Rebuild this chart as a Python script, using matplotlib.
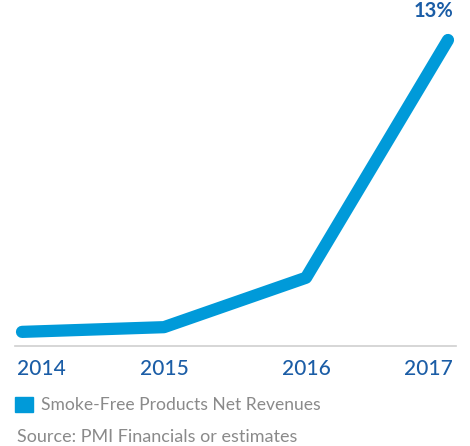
import matplotlib
matplotlib.use("Agg")
import matplotlib.pyplot as plt
import matplotlib.transforms as mtrans
from matplotlib.patches import Patch

plt.rcParams['font.family'] = ['Lato', 'DejaVu Sans']

years = [2014, 2015, 2016, 2017]
share = [0.6, 0.8, 2.9, 13.0]
year_labels = ["2014", "2015", "2016", "2017"]
series_name = "Smoke-Free Products Net Revenues"
source = "Source: PMI Financials or estimates"

blue = "#009ad9"
dark = "#1b5da6"
grey = "#8a8a8a"

fig = plt.figure(figsize=(4.7, 4.46), dpi=100)
ax = fig.add_axes([15/470, 100/446, 441/470, 326/446])

ax.plot(years, share, color=blue, lw=8.8, solid_capstyle='round',
        solid_joinstyle='round', clip_on=False)
ax.set_xlim(2014 - 7/142, 2017 + 8/142)
ax.set_ylim(0, 326/23.54)

for s in ['top', 'left', 'right']:
    ax.spines[s].set_visible(False)
ax.spines['bottom'].set_color('#cfcfcf')
ax.spines['bottom'].set_linewidth(1.2)
ax.set_yticks([])
ax.set_xticks(years)
ax.set_xticklabels(year_labels, fontsize=15, color=dark, fontweight='medium')
ax.tick_params(axis='x', length=0, pad=9.5)
labs = ax.get_xticklabels()
labs[0].set_horizontalalignment('left')
labs[-1].set_horizontalalignment('right')
# shift the end labels so they sit inside the axis line
labs[0].set_transform(labs[0].get_transform() + mtrans.ScaledTranslation(-5/100, 0, fig.dpi_scale_trans))
labs[-1].set_transform(labs[-1].get_transform() + mtrans.ScaledTranslation(5/100, 0, fig.dpi_scale_trans))

ax.annotate("13%", xy=(years[-1], share[-1]), xytext=(4, 14), textcoords='offset points',
            ha='right', va='bottom', fontsize=14.5, fontweight='bold', color=dark,
            annotation_clip=False)

leg = fig.legend(handles=[Patch(color=blue, label=series_name)],
                 loc='center left', bbox_to_anchor=(15/470, 1 - 405/446),
                 frameon=False, fontsize=12.6, handlelength=1.0, handleheight=1.0,
                 handletextpad=0.5, borderpad=0, borderaxespad=0)
for t in leg.get_texts():
    t.set_color(grey)

fig.text(17/470, 1 - 437/446, source, fontsize=13, color=grey, va='center', ha='left')

fig.savefig("out.png", dpi=100)
